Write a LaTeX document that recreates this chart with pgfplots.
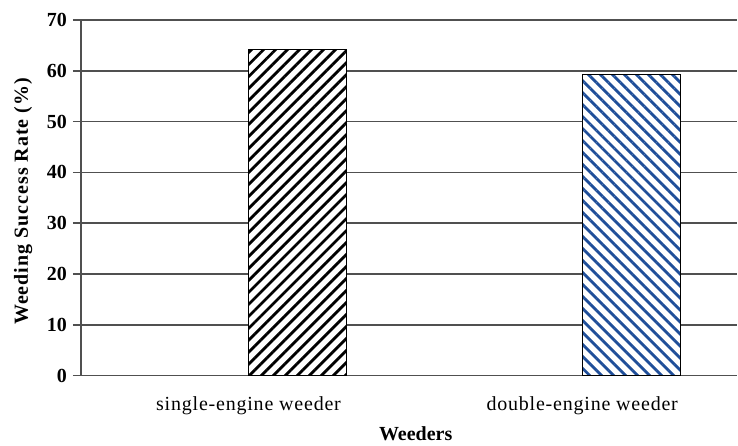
\documentclass[border=0pt]{standalone}
\usepackage{pgfplots}
\pgfplotsset{compat=1.18}
\usetikzlibrary{patterns.meta}
\usepackage{fontspec}
\setmainfont{Liberation Serif}
\newfontfamily\ylabfont[LetterSpace=5]{Liberation Serif}
\newfontfamily\catfont[LetterSpace=4]{Liberation Serif}
\definecolor{gridgray}{RGB}{80,80,80}
\definecolor{barblue}{RGB}{31,78,153}

\begin{document}
\begin{tikzpicture}
\begin{axis}[
    scale only axis,
    width=492.75pt, height=267pt,
    xmin=-0.65, xmax=1.317,
    ymin=0, ymax=70,
    ytick={0,10,...,70},
    xtick={0,1},
    xticklabels={single-engine weeder, double-engine weeder},
    axis x line*=bottom,
    axis y line*=left,
    axis line style={gridgray, line width=1.1pt, -},
    ymajorgrids,
    grid style={gridgray, line width=1.1pt},
    tick align=outside,
    major tick length=6pt,
    ytick style={gridgray, line width=1.1pt},
    xtick style={draw=none},
    yticklabel style={font=\fontsize{15}{17}\selectfont\bfseries, xshift=-1pt},
    /pgf/number format/assume math mode=true,
    xticklabel style={font=\fontsize{15}{17}\selectfont\catfont, yshift=-6pt, xshift=-37pt},
    ylabel={\ylabfont\bfseries Weeding Success Rate (\%)},
    ylabel style={at={(axis description cs:-0.088,0.49)}, anchor=center, font=\fontsize{15}{17}\selectfont},
    xlabel={\textbf{Weeders}},
    xlabel style={at={(axis description cs:0.51,-0.163)}, anchor=center, font=\fontsize{15}{17}\selectfont},
    clip=false,
]
\addplot[ybar, bar shift=0pt, bar width=73.5pt, draw=black, line width=0.7pt, fill=white,
    postaction={pattern={Lines[angle=45, distance=6.364pt, line width=2.1pt]}, pattern color=black}]
    coordinates {(0,64.1)};
\addplot[ybar, bar shift=0pt, bar width=73.5pt, draw=black, line width=0.7pt, fill=white,
    postaction={pattern={Lines[angle=-45, distance=6.364pt, line width=2.1pt]}, pattern color=barblue}]
    coordinates {(1,59.2)};
\end{axis}
\path (current axis.south west) ++(-60.75pt,-51.75pt);
\path (current axis.north east) ++(0pt,15pt);
\end{tikzpicture}
\end{document}
